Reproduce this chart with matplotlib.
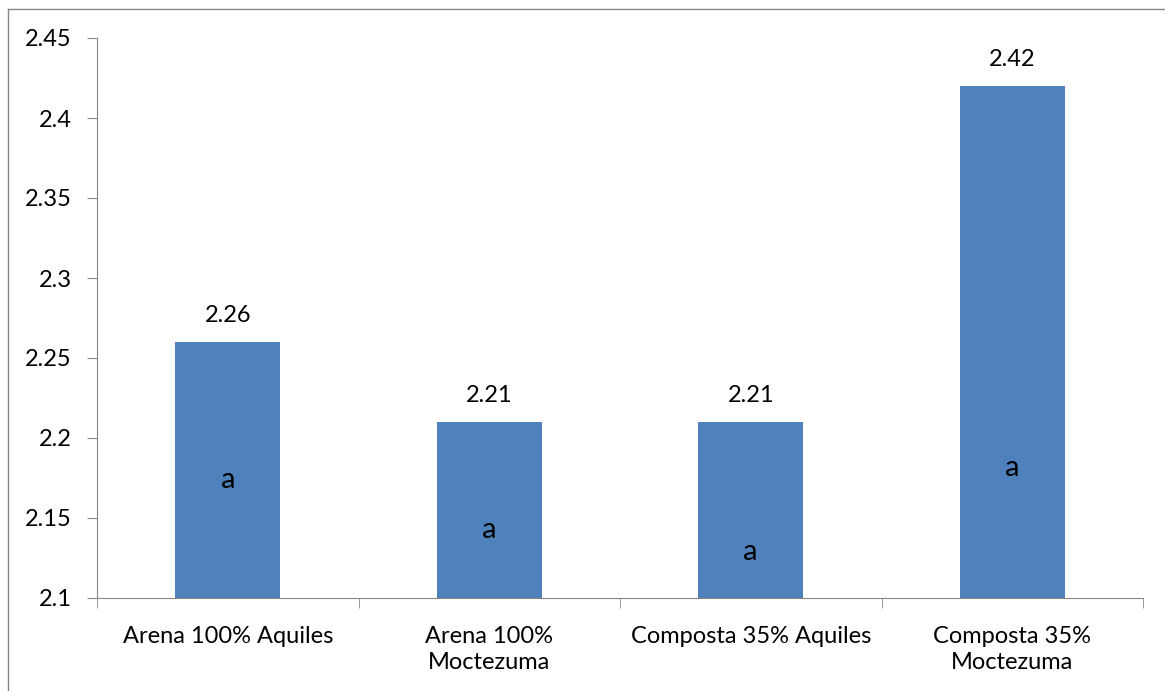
import matplotlib.pyplot as plt
import numpy as np
from matplotlib.lines import Line2D

categories = ["Arena 100% Aquiles", "Arena 100%\nMoctezuma", "Composta 35% Aquiles", "Composta 35%\nMoctezuma"]
values = [2.26, 2.21, 2.21, 2.42]
letters = ["a", "a", "a", "a"]
letter_y = [2.174, 2.1425, 2.129, 2.181]
yticks = [2.1, 2.15, 2.2, 2.25, 2.3, 2.35, 2.4, 2.45]

plt.rcParams['font.family'] = ['Lato', 'DejaVu Sans']
fs = 17
fig = plt.figure(figsize=(11.65, 6.91), dpi=100)
W, H = 1165, 691
ax = fig.add_axes([97 / W, 1 - 598 / H, (1143 - 97) / W, (598 - 38) / H])

x = np.arange(len(categories))
ax.bar(x, values, width=0.4, color="#4f81bd", zorder=2)
ax.set_xlim(-0.5, len(categories) - 0.5)
ax.set_ylim(2.1, 2.45)
ax.set_yticks(yticks)
ax.set_yticklabels([f"{t:g}" for t in yticks], fontsize=fs)

ax.set_xticks(x)
ax.set_xticklabels(categories, fontsize=fs, linespacing=1.32)
ax.tick_params(axis="x", length=0, pad=20)
ax.set_xticks(np.arange(len(categories) + 1) - 0.5, minor=True)
ax.tick_params(axis="x", which="minor", length=7, color="#868686")
ax.tick_params(axis="y", length=7, color="#868686", pad=11)

for s in ["top", "right"]:
    ax.spines[s].set_visible(False)
for s in ["left", "bottom"]:
    ax.spines[s].set_color("#868686")

for xi, v in zip(x, values):
    ax.annotate(f"{v:.2f}", (xi, v), xytext=(0, 19), textcoords="offset points",
                ha="center", va="center", fontsize=fs)
for xi, l, ly in zip(x, letters, letter_y):
    ax.text(xi, ly, l, ha="center", va="center", fontsize=21)

# chart frame
fig.add_artist(Line2D([8 / W, 8 / W], [0, 1 - 9 / H], color="#868686", lw=1))
fig.add_artist(Line2D([8 / W, 1], [1 - 9 / H, 1 - 9 / H], color="#868686", lw=1))

fig.savefig("out.png", dpi=100)
